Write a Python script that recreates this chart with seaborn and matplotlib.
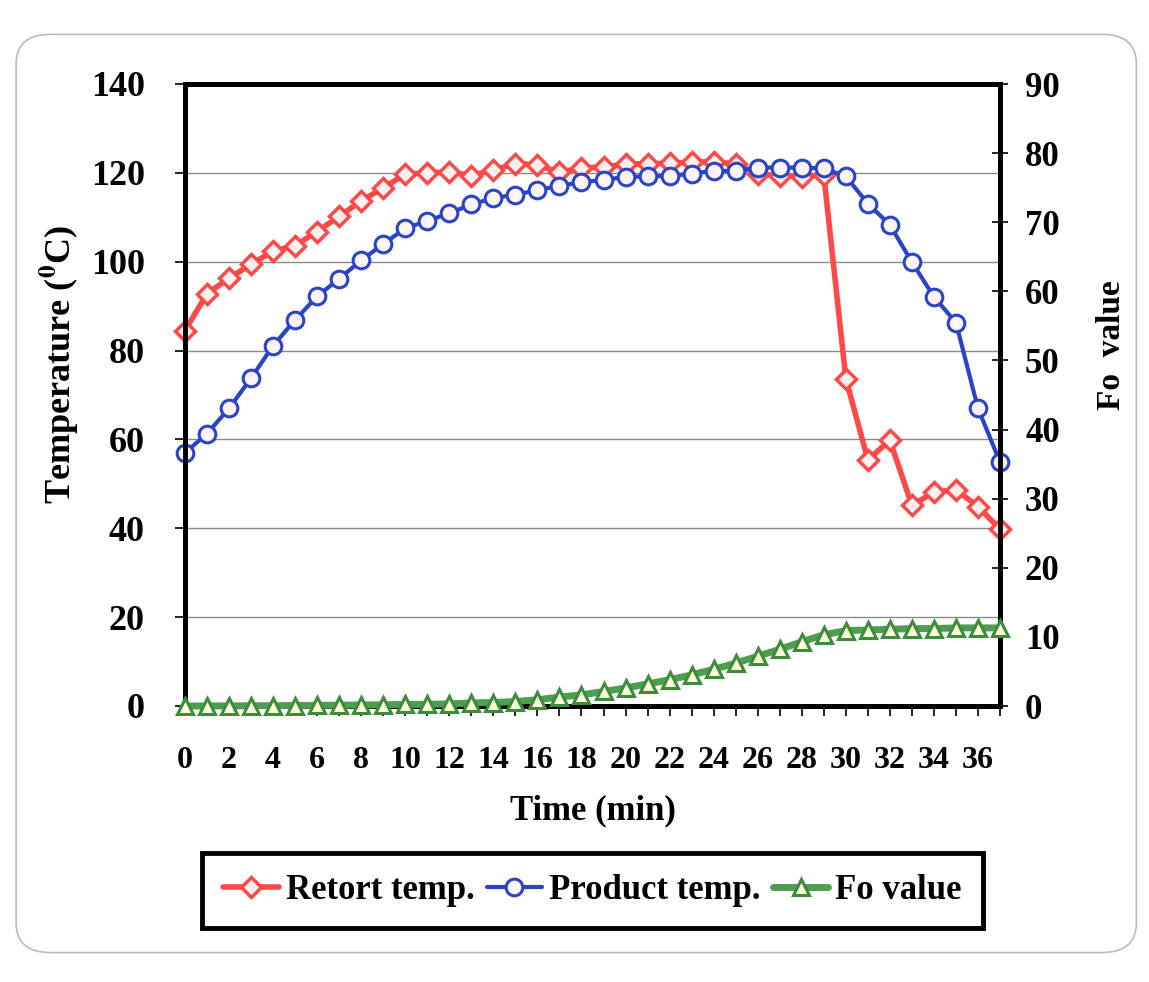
import matplotlib.pyplot as plt
import pandas as pd
import seaborn as sns
from matplotlib.lines import Line2D
from matplotlib.patches import FancyBboxPatch

# valeurs
time_min = list(range(38))
retort_temp = [84.5, 92.8, 96.3, 99.4, 102.4, 103.6, 106.8, 110.2, 113.7, 116.6,
               119.7, 120.0, 120.2, 119.4, 120.6, 122.1, 121.8, 120.1, 121.1, 121.3,
               122.0, 122.0, 122.2, 122.4, 122.5, 122.0, 119.7, 119.4, 119.1, 119.6,
               73.7, 55.4, 59.8, 45.2, 48.1, 48.7, 44.9, 39.8]
product_temp = [57.0, 61.3, 67.0, 73.8, 81.1, 86.9, 92.2, 96.2, 100.3, 104.0,
                107.5, 109.2, 110.9, 112.9, 114.3, 115.1, 116.1, 117.1, 117.9, 118.4,
                119.1, 119.2, 119.3, 119.8, 120.5, 120.4, 121.2, 121.2, 121.2, 121.0,
                119.2, 113.1, 108.3, 99.9, 92.1, 86.3, 67.0, 54.9]
fo_value = [0.0, 0.01, 0.02, 0.03, 0.05, 0.07, 0.1, 0.12, 0.15, 0.18,
            0.22, 0.26, 0.3, 0.45, 0.5, 0.65, 0.9, 1.3, 1.6, 2.1,
            2.6, 3.2, 3.8, 4.5, 5.3, 6.2, 7.2, 8.2, 9.3, 10.3,
            10.9, 11.0, 11.1, 11.2, 11.2, 11.3, 11.3, 11.3]
x_ticks = list(range(0, 37, 2))
left_ticks = list(range(0, 141, 20))
right_ticks = list(range(0, 91, 10))

df = pd.DataFrame({'Time': time_min, 'Retort': retort_temp,
                   'Product': product_temp, 'Fo': fo_value})

sns.set_theme(style='white')
plt.rcParams['font.family'] = ['Liberation Serif', 'DejaVu Serif']
plt.rcParams['font.weight'] = 'bold'
plt.rcParams['mathtext.fontset'] = 'stix'
plt.rcParams['text.color'] = 'black'
plt.rcParams['axes.labelcolor'] = 'black'
plt.rcParams['xtick.color'] = 'black'
plt.rcParams['ytick.color'] = 'black'

RED = '#FF4848'
BLUE = '#2A44C8'
GREEN = '#4E9E50'

red_style = dict(color=RED, linewidth=4, marker='D', markersize=10,
                 markerfacecolor='#FFF0F0', markeredgecolor=RED, markeredgewidth=2.5)
blue_style = dict(color=BLUE, linewidth=3, marker='o', markersize=12,
                  markerfacecolor='#FFF4FA', markeredgecolor=BLUE, markeredgewidth=2.2)
green_style = dict(color=GREEN, linewidth=5, marker='^', markersize=12,
                   markerfacecolor='#FFFFDC', markeredgecolor='#3C8C3C', markeredgewidth=2.2)

fig = plt.figure(figsize=(11.49, 9.82), dpi=100)

# cadre arrondi pâle autour de la figure
fig.patches.append(FancyBboxPatch((0.014, 0.03), 0.975, 0.935,
                                  boxstyle='round,pad=0,rounding_size=0.03',
                                  transform=fig.transFigure, facecolor='none',
                                  edgecolor='#bbbbbb', linewidth=1.2))

ax = fig.add_axes([185 / 1149, 1 - 706 / 982, 815 / 1149, 622 / 982])
ax2 = ax.twinx()

sns.lineplot(data=df, x='Time', y='Retort', ax=ax, clip_on=False, zorder=4, **red_style)
sns.lineplot(data=df, x='Time', y='Product', ax=ax, clip_on=False, zorder=5, **blue_style)
sns.lineplot(data=df, x='Time', y='Fo', ax=ax2, clip_on=False, zorder=5, **green_style)

ax.set_xlim(0, 37)
ax.set_ylim(0, 140)
ax2.set_ylim(0, 90)

ax.set_xticks(x_ticks)
ax.set_xticks(time_min, minor=True)
ax.set_xticklabels([str(t) for t in x_ticks], fontsize=23, fontweight='bold')
ax.set_yticks(left_ticks)
ax.set_yticklabels([str(t) for t in left_ticks], fontsize=26, fontweight='bold')
ax2.set_yticks(right_ticks)
ax2.set_yticklabels([str(t) for t in right_ticks], fontsize=25, fontweight='bold')

ax.tick_params(axis='x', which='both', direction='out', length=7, width=1.2,
               pad=22, bottom=True, colors='black')
ax.tick_params(axis='y', direction='out', length=7, width=1.2, pad=22, left=True,
               colors='black')
ax2.tick_params(axis='y', direction='inout', length=12, width=1.2, pad=12, right=True,
                colors='black')

ax.yaxis.grid(True, color='#8a8a8a', linewidth=1)
ax.xaxis.grid(False)
ax2.grid(False)

for a in (ax, ax2):
    for s in a.spines.values():
        s.set_color('black')
        s.set_linewidth(3.5)

ax.set_xlabel('Time (min)', fontsize=25, fontweight='bold', labelpad=14)
ax.set_ylabel(r'Temperature ($\mathbf{^0}$C)', fontsize=26, fontweight='bold')
ax.yaxis.set_label_coords(-0.128, 0.55)
ax2.set_ylabel('Fo  value', fontsize=24, fontweight='bold', rotation=90)
ax2.yaxis.set_label_coords(1.118, 0.58)

for a in (ax, ax2):
    if a.get_legend() is not None:
        a.get_legend().remove()

handles = [Line2D([], [], **red_style), Line2D([], [], **blue_style),
           Line2D([], [], **green_style)]
labels = ['Retort temp.', 'Product temp.', 'Fo value']
leg = fig.legend(handles, labels, loc='lower left', ncol=3, mode='expand',
                 bbox_to_anchor=(185 / 1149, 1 - 945 / 982, 815 / 1149, 80 / 982),
                 prop={'family': 'Liberation Serif', 'weight': 'bold', 'size': 25},
                 frameon=True, fancybox=False, edgecolor='black', framealpha=1,
                 handlelength=1.6, handletextpad=0.2, borderpad=0.6, columnspacing=0.5)
leg.get_frame().set_linewidth(3.5)

fig.savefig('out.png', dpi=100)
